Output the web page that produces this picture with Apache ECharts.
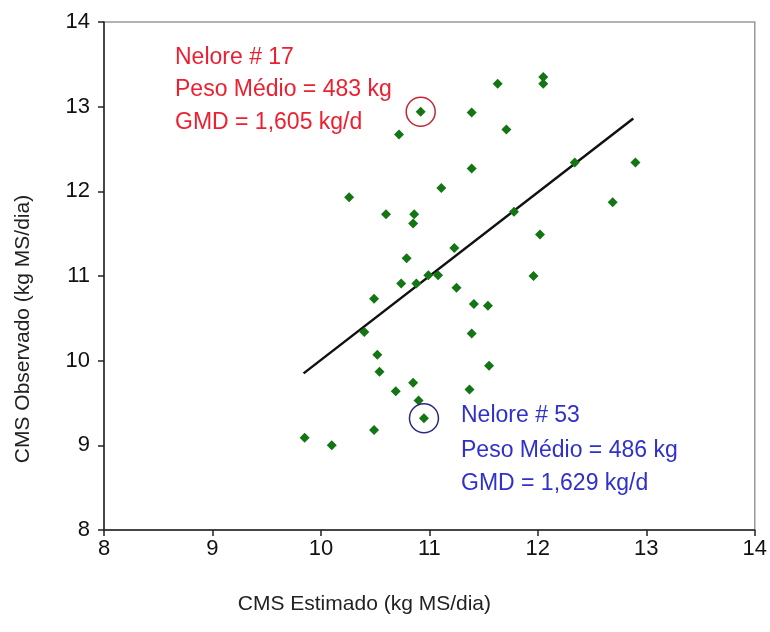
<!DOCTYPE html>
<html>
<head>
<meta charset="utf-8">
<script src="https://cdn.jsdelivr.net/npm/echarts@6/dist/echarts.min.js"></script>
<style>html,body{margin:0;padding:0;background:#fff;}#c{width:770px;height:632px;}</style>
</head>
<body>
<div id="c"></div>
<script>
var estimado = [9.85,10.10,10.26,10.40,10.49,10.49,10.52,10.54,10.60,10.69,10.72,10.74,10.79,10.86,10.85,10.85,10.88,10.90,10.92,10.95,10.99,11.08,11.11,11.23,11.25,11.41,11.39,11.37,11.39,11.39,11.54,11.55,11.63,11.71,11.78,11.96,12.02,12.05,12.05,12.34,12.69,12.90];
var observado = [9.09,9.00,11.93,10.34,10.73,9.18,10.07,9.87,11.73,9.64,12.67,10.91,11.21,11.73,11.62,9.74,10.91,9.53,12.94,9.32,11.01,11.01,12.04,11.33,10.86,10.67,10.32,9.66,12.27,12.93,10.65,9.94,13.27,12.73,11.76,11.00,11.49,13.35,13.27,12.34,11.87,12.34];
var regX = [9.84, 12.88];
var regY = [9.85, 12.86];
var highlightRed = [10.92, 12.94];
var highlightBlue = [10.95, 9.32];
var xTicks = [8,9,10,11,12,13,14];
var yTicks = [8,9,10,11,12,13,14];
var redLines = ['Nelore # 17','Peso Médio = 483 kg','GMD = 1,605 kg/d'];
var blueLines = ['Nelore # 53','Peso Médio = 486 kg','GMD = 1,629 kg/d'];

var pts = estimado.map(function(x,i){return [x, observado[i]];});
var reg = regX.map(function(x,i){return [x, regY[i]];});
var font = '"Liberation Sans", Arial, sans-serif';

var chart = echarts.init(document.getElementById('c'));
var graphics = [];
var redY = [58, 90, 123];
var blueY = [416, 451, 484];
redLines.forEach(function(t,i){
  graphics.push({type:'text', x:175, y:redY[i], style:{text:t, fill:'#ec2030', font:'23px ' + font, textVerticalAlign:'middle'}});
});
blueLines.forEach(function(t,i){
  graphics.push({type:'text', x:461, y:blueY[i], style:{text:t, fill:'#3030cc', font:'23px ' + font, textVerticalAlign:'middle'}});
});
chart.setOption({
  animation:false,
  backgroundColor:'#fff',
  grid:{left:104, top:22, right:15, bottom:102, show:true, borderColor:'#999', borderWidth:1.5},
  xAxis:{type:'value', min:xTicks[0], max:xTicks[xTicks.length-1], interval:1,
    name:'CMS Estimado (kg MS/dia)', nameLocation:'middle', nameGap:64,
    nameTextStyle:{fontFamily:font, fontSize:21, color:'#222', padding:[0,130,0,0]},
    axisLine:{onZero:false, lineStyle:{color:'#222', width:1.5}},
    axisTick:{show:true, inside:false, length:6, lineStyle:{color:'#222', width:1.5}},
    axisLabel:{fontFamily:font, fontSize:22, color:'#111', margin:8},
    splitLine:{show:false}},
  yAxis:{type:'value', min:yTicks[0], max:yTicks[yTicks.length-1], interval:1,
    name:'CMS Observado (kg MS/dia)', nameLocation:'middle', nameGap:70,
    nameTextStyle:{fontFamily:font, fontSize:21, color:'#222', padding:[0,106,0,0]},
    axisLine:{onZero:false, lineStyle:{color:'#222', width:1.5}},
    axisTick:{show:true, inside:false, length:6, lineStyle:{color:'#222', width:1.5}},
    axisLabel:{fontFamily:font, fontSize:22, color:'#111', margin:14},
    splitLine:{show:false}},
  series:[
    {type:'line', data:reg, symbol:'none', lineStyle:{color:'#111', width:2.5}, z:2},
    {type:'scatter', data:pts, symbol:'diamond', symbolSize:10, itemStyle:{color:'#137513', opacity:1}, z:3},
    {type:'scatter', data:[highlightRed], symbol:'circle', symbolSize:29, itemStyle:{color:'rgba(0,0,0,0)', borderColor:'#c42838', borderWidth:1.5, opacity:1}, z:4},
    {type:'scatter', data:[highlightBlue], symbol:'circle', symbolSize:29, itemStyle:{color:'rgba(0,0,0,0)', borderColor:'#2a2a80', borderWidth:1.5, opacity:1}, z:4}
  ],
  graphic:graphics
});
</script>
</body>
</html>
